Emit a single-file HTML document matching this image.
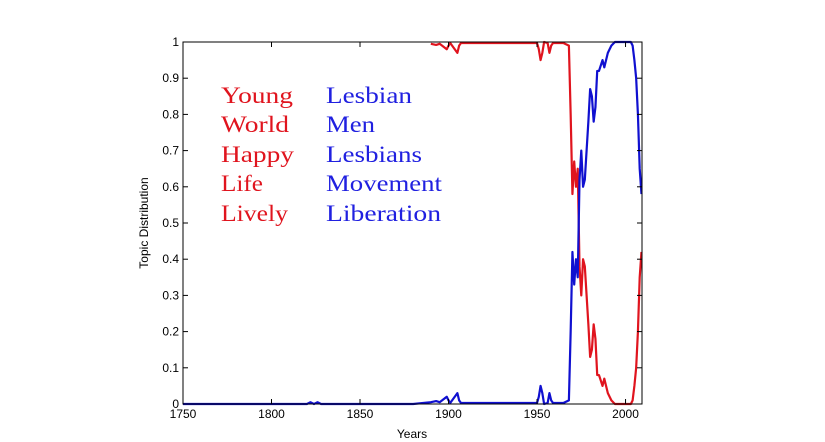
<!DOCTYPE html>
<html><head><meta charset="utf-8"><style>
html,body{margin:0;padding:0;background:#fff;}
svg{display:block;}
text{font-family:"Liberation Sans",Arial,sans-serif;}
.leg{font-family:"Liberation Serif",serif;font-size:23px;}
</style></head><body>
<svg id="chart" width="825" height="442" viewBox="0 0 825 442">
<rect x="0" y="0" width="825" height="442" fill="#fff"/>
<g id="plot"></g>
<g id="axes"></g>
<text x="0" y="0" transform="translate(148,223) rotate(-90)" text-anchor="middle" font-size="12" fill="#000">Topic Distribution</text>
<text x="412" y="438" text-anchor="middle" font-size="12" fill="#000">Years</text>
<g>
<text class="leg" x="221" y="103" fill="#e0141e" textLength="72" lengthAdjust="spacingAndGlyphs">Young</text>
<text class="leg" x="221" y="132" fill="#e0141e" textLength="68" lengthAdjust="spacingAndGlyphs">World</text>
<text class="leg" x="221" y="162" fill="#e0141e" textLength="73" lengthAdjust="spacingAndGlyphs">Happy</text>
<text class="leg" x="221" y="191" fill="#e0141e" textLength="42" lengthAdjust="spacingAndGlyphs">Life</text>
<text class="leg" x="221" y="221" fill="#e0141e" textLength="67" lengthAdjust="spacingAndGlyphs">Lively</text>
<text class="leg" x="326" y="103" fill="#2020e0" textLength="86" lengthAdjust="spacingAndGlyphs">Lesbian</text>
<text class="leg" x="326" y="132" fill="#2020e0" textLength="49" lengthAdjust="spacingAndGlyphs">Men</text>
<text class="leg" x="326" y="162" fill="#2020e0" textLength="96" lengthAdjust="spacingAndGlyphs">Lesbians</text>
<text class="leg" x="326" y="191" fill="#2020e0" textLength="116" lengthAdjust="spacingAndGlyphs">Movement</text>
<text class="leg" x="326" y="221" fill="#2020e0" textLength="115" lengthAdjust="spacingAndGlyphs">Liberation</text>
</g>
</svg>
<script>
const years = [1750,1820,1822,1824,1826,1828,1880,1890,1893,1895,1899,1900,1901,1905,1906,1907,1910,1930,1950,1951,1952,1953,1954,1956,1957,1958,1959,1960,1965,1968,1969,1970,1971,1972,1973,1974,1975,1976,1977,1978,1979,1980,1981,1982,1983,1984,1985,1987,1988,1990,1992,1994,1996,2000,2003,2004,2005,2006,2007,2008,2009];
const lesbianTopic = [0,0,0.005,0,0.005,0,0,0.005,0.008,0.005,0.02,0.01,0.003,0.03,0.01,0.003,0.003,0.003,0.003,0.02,0.05,0.03,0,0.003,0.03,0.01,0.003,0.003,0.003,0.01,0.2,0.42,0.33,0.40,0.35,0.62,0.70,0.60,0.62,0.70,0.78,0.87,0.85,0.78,0.82,0.92,0.92,0.95,0.93,0.97,0.99,1,1,1,1,0.99,0.95,0.90,0.80,0.65,0.58];
const youngTopicStart = 1885;
const xTicks = [1750,1800,1850,1900,1950,2000];
const yTicks = [0,0.1,0.2,0.3,0.4,0.5,0.6,0.7,0.8,0.9,1];
const yTickLabels = ["0","0.1","0.2","0.3","0.4","0.5","0.6","0.7","0.8","0.9","1"];

const L=183,R=642,T=42,B=404,X0=1750,X1=2009.3;
const xs=v=>L+(v-X0)/(X1-X0)*(R-L);
const ys=v=>B-v*(B-T);
const NS="http://www.w3.org/2000/svg";
const plot=document.getElementById('plot'),axes=document.getElementById('axes');
function mk(tag,attrs,parent){const e=document.createElementNS(NS,tag);for(const k in attrs)e.setAttribute(k,attrs[k]);parent.appendChild(e);return e;}

function stepPath(vals,startYear){
  let d='';let first=true;
  for(let i=0;i<years.length;i++){
    if(years[i]<startYear)continue;
    const x=xs(years[i]),y=ys(vals[i]);
    if(first){d+='M'+x+','+y;first=false;}else{d+='L'+x+','+y;}
  }
  return d;
}
const redVals=lesbianTopic.map(v=>1-v);
const red=mk('path',{d:stepPath(redVals,youngTopicStart),fill:'none',stroke:'#e0141e','stroke-width':2.2,'stroke-linejoin':'round'},plot);


const blue=mk('path',{d:stepPath(lesbianTopic,X0),fill:'none',stroke:'#1010d0','stroke-width':2.2,'stroke-linejoin':'round'},plot);



const box=mk('rect',{x:L,y:T,width:R-L,height:B-T,fill:'none',stroke:'#000','stroke-width':1},axes);


xTicks.forEach(t=>{
  const x=xs(t);
  mk('line',{x1:x,x2:x,y1:B,y2:B-5,stroke:'#000'},axes);
  mk('line',{x1:x,x2:x,y1:T,y2:T+5,stroke:'#000'},axes);
  const lb=mk('text',{x:x,y:B+14,'text-anchor':'middle','font-size':12,fill:'#000'},axes);
  lb.textContent=t;
  
  
});
yTicks.forEach((t,i)=>{
  const y=ys(t);
  mk('line',{x1:L,x2:L+5,y1:y,y2:y,stroke:'#000'},axes);
  mk('line',{x1:R,x2:R-5,y1:y,y2:y,stroke:'#000'},axes);
  const lb=mk('text',{x:L-4,y:y+4,'text-anchor':'end','font-size':12,fill:'#000'},axes);
  lb.textContent=yTickLabels[i];
  
  
});
</script>
</body></html>
